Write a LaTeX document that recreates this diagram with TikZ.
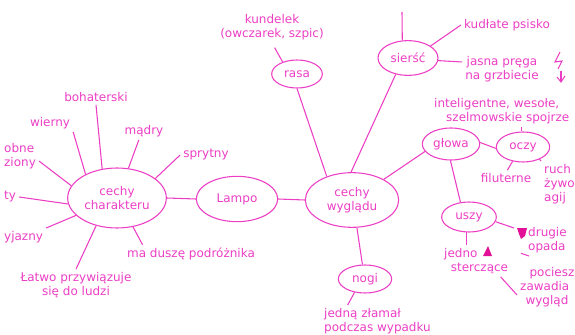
\documentclass[tikz,border=0pt]{standalone}
\usepackage{fontspec}
\setmainfont{DejaVu Sans}
\usetikzlibrary{shapes.geometric}
\definecolor{pen}{RGB}{236,62,196}
\definecolor{blot}{RGB}{226,16,150}
\tikzset{every picture/.style={line width=0.8pt}}
\begin{document}
\begin{tikzpicture}[x=0.75pt,y=0.75pt,yscale=-1,xscale=1,
  every node/.style={font=\fontsize{9pt}{10.5pt}\selectfont, text=pen},
  bubble/.style={ellipse, draw=pen, inner sep=0pt, align=center},
  lbl/.style={inner sep=2pt, align=center},
  lbll/.style={inner sep=2pt, align=left, anchor=north west}]
\useasboundingbox (0,0) rectangle (575,335);
\clip (0,0) rectangle (575,335);

%Ellipses
\node [bubble, minimum width=74pt, minimum height=45pt] (chr) at (117,198) {cechy\\charakteru};
\node [bubble, minimum width=61pt, minimum height=34pt] (lam) at (237,199) {Lampo};
\node [bubble, minimum width=70pt, minimum height=41pt] (wyg) at (352,200) {cechy\\wyglądu};
\node [bubble, minimum width=38pt, minimum height=21pt] (ras) at (297,74) {rasa};
\node [bubble, minimum width=45pt, minimum height=26pt] (sie) at (408,58) {sierść};
\node [bubble, minimum width=43pt, minimum height=24pt] (glo) at (451,144) {głowa};
\node [bubble, minimum width=40pt, minimum height=22.5pt] (ocz) at (523,147) {oczy};
\node [bubble, minimum width=41pt, minimum height=22.5pt] (usz) at (469,217) {uszy};
\node [bubble, minimum width=40pt, minimum height=21pt] (nog) at (365,279) {nogi};

% Text Node
\node [lbl] (boh) at (96,97) {bohaterski};
\node [lbl] (wie) at (50,123) {wierny};
\node [lbl] (mad) at (144,131) {mądry};
\node [lbl] (spr) at (206,155) {sprytny};
\node [lbll, anchor=west] (obm) at (1,156) {obne\\ziony};
\node [lbl, anchor=west] (ty) at (1,197) {ty};
\node [lbl, anchor=west] (prz) at (1,237) {yjazny};
\node [lbl] (dus) at (191,254) {ma duszę podróżnika};
\node [lbl] (lat) at (76,285) {Łatwo przywiązuje\\się do ludzi};
\node [lbl] (kun) at (272,27) {kundelek\\(owczarek, szpic)};
\node [lbl] (kud) at (507,25) {kudłate psisko};
\node [lbl] (jas) at (502,69) {jasna pręga\\na grzbiecie};
\node [lbll] (int) at (431,95) {inteligentne, wesołe,\\\hspace{9pt}szelmowskie spojrze};
\node [lbl] (fil) at (506,178) {filuterne};
\node [lbll] (ruc) at (541,161) {ruch\\żywo\\agij};
\node [lbll] (jst) at (441,245) {jedno\\\hspace{5pt}sterczące};
\node [lbll] (dru) at (525,224) {drugie\\opada};
\node [lbll] (poc) at (517,264) {\hspace{7pt}pociesz\\zawadia\\\hspace{4pt}wygląd};
\node [lbll] (jed) at (321,305) {jedną złamał\\podczas wypadku};
\coordinate (top) at (402,12);
\coordinate (flg) at (514,228);

%Straight Lines
\draw [pen] (chr.117) -- (boh.south);
\draw [pen] (chr.143) -- (wie.south east);
\draw [pen] (chr.69) -- (mad.-120);
\draw [pen] (chr.27) -- (spr.west);
\draw [pen] (chr.165) -- (obm.-15);
\draw [pen] (chr.187) -- (ty.east);
\draw [pen] (chr.203) -- (prz.north east);
\draw [pen] (chr.-61) -- ([xshift=14pt]dus.north west);
\draw [pen] (chr.-127) -- (lat.north);
\draw [pen] (chr.east) -- (lam.west);
\draw [pen] (lam.east) -- (wyg.west);
\draw [pen] (wyg.137) -- (ras.south);
\draw [pen] (wyg.92) -- (sie.233);
\draw [pen] (wyg.33) -- (glo.196);
\draw [pen] (wyg.-80) -- (nog.100);
\draw [pen] (nog.232) -- ([xshift=20pt]jed.north west);
\draw [pen, shorten <=4pt] (kun.south) -- (ras.140);
\draw [pen] (sie.108) -- (top);
\draw [pen] (sie.28) -- (kud.west);
\draw [pen] (sie.-5) -- (jas.170);
\draw [pen] (glo.3) -- (ocz.183);
\draw [pen] (ocz.95) -- (ocz.95 |- int.south);
\draw [pen] (ocz.234) -- (fil.80);
\draw [pen] (ocz.-37) -- (ruc.north west);
\draw [pen] (glo.-92) -- (usz.120);
\draw [pen] (usz.-100) -- (usz.-100 |- jst.north);
\draw [pen] (usz.-10) -- (flg);
\draw [pen] ([xshift=3pt]dru.south west) -- ([xshift=3pt,yshift=-8pt]poc.north west);
\draw [pen] ([xshift=-8pt]jst.south east) -- ([yshift=6pt]poc.west);

%Shapes
\fill [blot] (517,228) -- (527,228) -- (525,236) -- (521,239) -- (519,234) -- cycle;
\fill [blot] (483,256) -- (488,246) -- (492,256) -- cycle;
\draw [pen] (560,52) -- (555,62) -- (562,61) -- (558,69);
\draw [pen] (561,71) -- (561,82);
\draw [pen] (557,77) -- (561,82) -- (565,76);

\end{tikzpicture}
\end{document}
